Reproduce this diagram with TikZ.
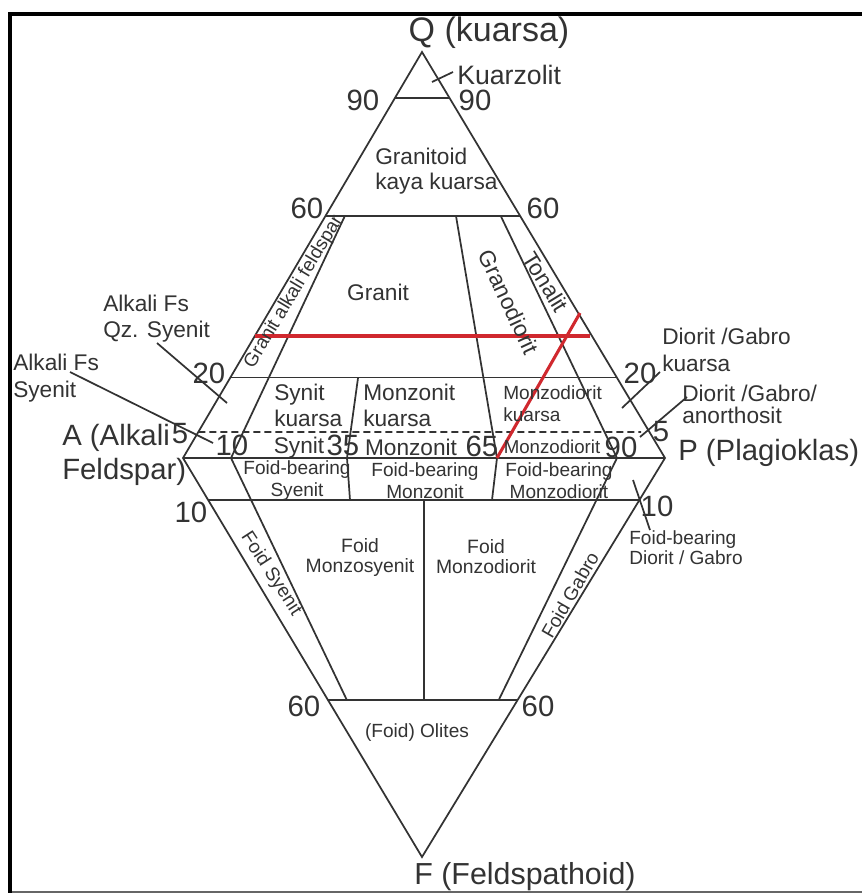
\documentclass[tikz,border=0pt]{standalone}
\usepackage{fontspec}
\setmainfont{Liberation Sans}
\usetikzlibrary{calc}
\definecolor{ink}{HTML}{333333}
\definecolor{redl}{HTML}{D0282E}
\begin{document}
\begin{tikzpicture}[x=0.75pt,y=-0.75pt,
  ln/.style={draw=ink,line width=1.3pt,line join=miter},
  dashln/.style={draw=ink,line width=1.3pt,dash pattern=on 5.25pt off 3pt},
  redln/.style={draw=redl,line width=2.3pt},
  lead/.style={draw=ink,line width=1.3pt},
  qlab/.style={text=ink,font=\fontsize{25.5}{29}\selectfont,inner sep=0pt},
  big/.style={text=ink,font=\fontsize{22}{26}\selectfont,inner sep=0pt},
  reg/.style={text=ink,font=\fontsize{17}{19.5}\selectfont,inner sep=0pt,align=left},
  sml/.style={text=ink,font=\fontsize{14.3}{16.5}\selectfont,inner sep=0pt,align=center}
]
\useasboundingbox (0,0) rectangle (862,893);
\fill[white] (0,0) rectangle (862,893);
% frame
\draw[black,line width=3pt] (10,893) -- (10,13.5) -- (862,13.5);
\draw[black!60,line width=1.5pt] (12,891.5) -- (862,891.5);

% vertices
\coordinate (Q) at (422,52);
\coordinate (A) at (183,458);
\coordinate (P) at (665,458);
\coordinate (F) at (422,857);
% horizontal levels
\coordinate (q90l) at ($(A)!0.887!(Q)$);
\coordinate (q90r) at ($(P)!0.887!(Q)$);
\coordinate (q60l) at ($(A)!0.596!(Q)$);
\coordinate (q60r) at ($(P)!0.596!(Q)$);
\coordinate (q20l) at ($(A)!0.198!(Q)$);
\coordinate (q20r) at ($(P)!0.198!(Q)$);
\coordinate (q5l) at ($(A)!0.064!(Q)$);
\coordinate (q5r) at (641,432);
\coordinate (f10l) at ($(A)!0.105!(F)$);
\coordinate (f10r) at ($(P)!0.105!(F)$);
\coordinate (f60l) at ($(A)!0.6065!(F)$);
\coordinate (f60r) at ($(P)!0.6065!(F)$);
% radial lines
\coordinate (b10) at (231,458);
\coordinate (b35) at (347,458);
\coordinate (b65) at (497,458);
\coordinate (b90) at (617,458);
\coordinate (u10) at ($(b10)!0.596!(Q)$);
\coordinate (u35) at (358,378);
\coordinate (u65) at (456,216);
\coordinate (u90) at ($(b90)!0.596!(Q)$);
\coordinate (l10) at ($(b10)!0.6065!(F)$);
\coordinate (l35) at (350,500);
\coordinate (l65) at (492,500);
\coordinate (l90) at ($(b90)!0.6065!(F)$);
\coordinate (m50t) at (424,500);
\coordinate (m50b) at (424,700);

% outline
\draw[ln] (Q) -- (A) -- (F) -- (P) -- cycle;
\draw[ln] (A) -- (P);
% horizontal divisions
\draw[ln] (q90l) -- (q90r);
\draw[ln] (q60l) -- (q60r);
\draw[ln] (q20l) -- (q20r);
\draw[dashln] (q5l) -- (q5r);
\draw[ln] (f10l) -- (f10r);
\draw[ln] (f60l) -- (f60r);
% radial divisions
\draw[ln] (u10) -- (b10) -- (l10);
\draw[ln] (u35) -- (b35) -- (l35);
\draw[ln] (u65) -- (b65) -- (l65);
\draw[ln] (u90) -- (b90) -- (l90);
\draw[ln] (m50t) -- (m50b);

% red lines
\coordinate (r1) at (255,336);
\coordinate (r2) at (590,336);
\coordinate (r4) at (580,313);
\draw[redln] (r1) -- (r2);
\draw[redln] (b65) -- (r4);

% leader lines
\coordinate (kz1) at (432,82);   \coordinate (kz2) at (453,72);
\coordinate (aq1) at (157,343);  \coordinate (aq2) at (227,403);
\coordinate (as1) at (70,372);   \coordinate (as2) at (213,443);
\coordinate (dq1) at (622,408);  \coordinate (dq2) at (660,372);
\coordinate (da1) at (640,437);  \coordinate (da2) at (687,397);
\coordinate (fd1) at (633,480);  \coordinate (fd2) at (650,530);
\draw[lead] (kz1) -- (kz2);
\draw[lead] (aq1) -- (aq2);
\draw[lead] (as1) -- (as2);
\draw[lead] (dq1) -- (dq2);
\draw[lead] (da1) -- (da2);
\draw[lead] (fd1) -- (fd2);

% corner labels
\node[qlab] (tQ) at (489,33) {Q (kuarsa)};
\node[big,anchor=west,align=left,font=\fontsize{22}{26}\selectfont] (tA) at (62,455) {A (Alkali\\Feldspar)};
\node[big,anchor=west] (tP) at (678,453) {P (Plagioklas)};
\node[big,font=\fontsize{22.8}{26}\selectfont] (tF) at (525,877) {F (Feldspathoid)};

% numbers
\node[big] (n90l) at (363,100) {90};
\node[big] (n90r) at (475,100) {90};
\node[big] (n60l) at (307,208) {60};
\node[big] (n60r) at (543,208) {60};
\node[big] (n20l) at (209,373) {20};
\node[big] (n20r) at (640,373) {20};
\node[big] (n5l) at (180,434) {5};
\node[big] (n5r) at (661,432) {5};
\node[big] (n10a) at (232,445) {10};
\node[big] (n35) at (343,445) {35};
\node[big] (n65) at (482,446) {65};
\node[big] (n90b) at (621,447) {90};
\node[big] (n10l) at (191,512) {10};
\node[big] (n10r) at (657,506) {10};
\node[big] (n60bl) at (304,706) {60};
\node[big] (n60br) at (538,706) {60};

% field labels
\node[text=ink,font=\fontsize{20}{24}\selectfont,inner sep=0pt,anchor=west] (tKz) at (457,75) {Kuarzolit};
\node[reg,anchor=west,font=\fontsize{17}{18.75}\selectfont] (tGk) at (375,171) {Granitoid\\kaya kuarsa};
\node[reg] (tGr) at (378,292) {Granit};
\node[sml,rotate=59] (tGaf) at (294,292) {Granit alkali feldspar};
\node[reg,rotate=-65] (tGd) at (509,302) {Granodiorit};
\node[reg,rotate=-58.5] (tTo) at (546,282) {Tonalit};
\node[reg,anchor=west] (tAq) at (103,319) {Alkali Fs\\Qz. Syenit};
\node[reg,anchor=west,font=\fontsize{17}{20.25}\selectfont] (tAs) at (13,378) {Alkali Fs\\Syenit};
\node[reg,anchor=west] (tSk) at (274,405) {Synit\\kuarsa};
\node[reg,anchor=west] (tMk) at (363,405) {Monzonit\\kuarsa};
\node[sml,anchor=west,align=left] (tMdk) at (503,404) {Monzodiorit\\kuarsa};
\node[reg] (tSy) at (299,448) {Synit};
\node[reg] (tMz) at (411,447) {Monzonit};
\node[sml,font=\fontsize{14}{16}\selectfont] (tMd) at (552,447) {Monzodiorit};
\node[reg,anchor=west,font=\fontsize{17}{20.25}\selectfont] (tDq) at (662,350) {Diorit /Gabro\\kuarsa};
\node[reg,anchor=west,font=\fontsize{17}{16.5}\selectfont] (tDa) at (682,404) {Diorit /Gabro/\\anorthosit};
\node[sml] (tFbs) at (297,481) {Foid-bearing\\Syenit};
\node[sml] (tFbm) at (425,481) {Foid-bearing\\Monzonit};
\node[sml] (tFbd) at (559,481) {Foid-bearing\\Monzodiorit};
\node[sml,anchor=west,align=left,font=\fontsize{14.3}{15}\selectfont] (tFbg) at (629,548) {Foid-bearing\\Diorit / Gabro};
\node[sml,font=\fontsize{14.5}{15}\selectfont] (tFms) at (360,557) {Foid\\Monzosyenit};
\node[sml,font=\fontsize{14.5}{15}\selectfont] (tFmd) at (486,557) {Foid\\Monzodiorit};
\node[sml,rotate=-57] (tFs) at (271,574) {Foid Syenit};
\node[sml,rotate=60] (tFg) at (570,595) {Foid Gabro};
\node[sml] (tOl) at (417,733) {(Foid) Olites};
\end{tikzpicture}
\end{document}
